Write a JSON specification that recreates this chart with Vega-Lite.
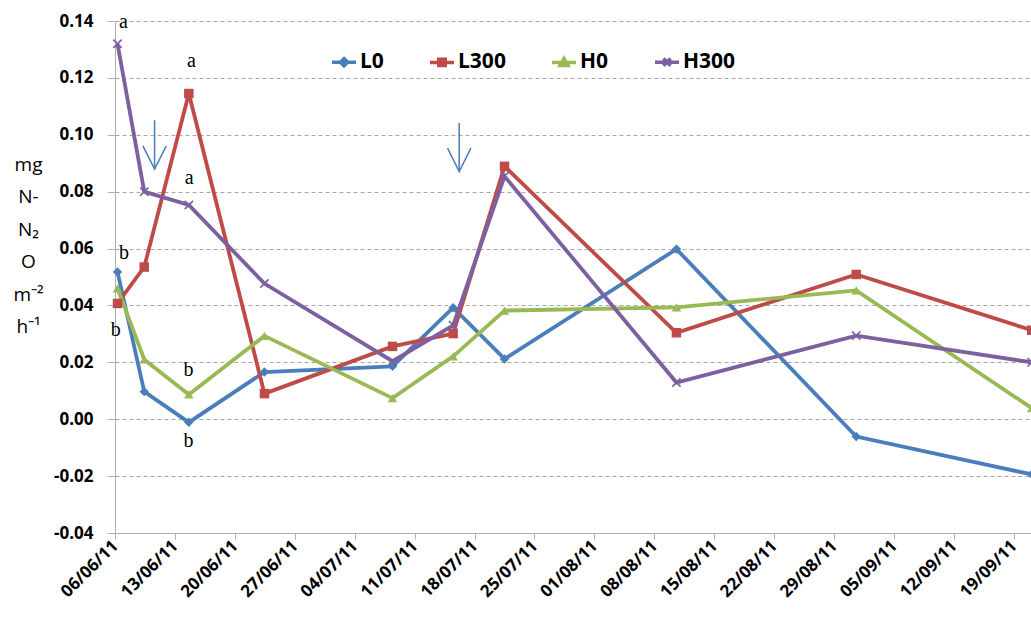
{
  "$schema": "https://vega.github.io/schema/vega-lite/v6.json",
  "width": 916,
  "height": 512,
  "autosize": "none",
  "padding": {"left": 115, "top": 21, "right": 0, "bottom": 89},
  "background": "white",
  "config": {"view": {"stroke": null}, "font": "Open Sans"},
  "datasets": {
    "series": [
      {"date": "2011-06-06T07:00", "series": "L0", "value": 0.0518},
      {"date": "2011-06-09T10:00", "series": "L0", "value": 0.0097},
      {"date": "2011-06-14T15:00", "series": "L0", "value": -0.0011},
      {"date": "2011-06-23T11:00", "series": "L0", "value": 0.0166},
      {"date": "2011-07-08T10:00", "series": "L0", "value": 0.0186},
      {"date": "2011-07-15T12:00", "series": "L0", "value": 0.0392},
      {"date": "2011-07-21T12:00", "series": "L0", "value": 0.0212},
      {"date": "2011-08-10T14:00", "series": "L0", "value": 0.0598},
      {"date": "2011-08-31T14:00", "series": "L0", "value": -0.0061},
      {"date": "2011-09-21T02:00", "series": "L0", "value": -0.0194},
      {"date": "2011-06-06T07:00", "series": "L300", "value": 0.0407},
      {"date": "2011-06-09T10:00", "series": "L300", "value": 0.0535},
      {"date": "2011-06-14T15:00", "series": "L300", "value": 0.1145},
      {"date": "2011-06-23T11:00", "series": "L300", "value": 0.0090},
      {"date": "2011-07-08T10:00", "series": "L300", "value": 0.0256},
      {"date": "2011-07-15T12:00", "series": "L300", "value": 0.0301},
      {"date": "2011-07-21T12:00", "series": "L300", "value": 0.0889},
      {"date": "2011-08-10T14:00", "series": "L300", "value": 0.0304},
      {"date": "2011-08-31T14:00", "series": "L300", "value": 0.0509},
      {"date": "2011-09-21T02:00", "series": "L300", "value": 0.0313},
      {"date": "2011-06-06T07:00", "series": "H0", "value": 0.0460},
      {"date": "2011-06-09T10:00", "series": "H0", "value": 0.0210},
      {"date": "2011-06-14T15:00", "series": "H0", "value": 0.0087},
      {"date": "2011-06-23T11:00", "series": "H0", "value": 0.0293},
      {"date": "2011-07-08T10:00", "series": "H0", "value": 0.0074},
      {"date": "2011-07-15T12:00", "series": "H0", "value": 0.0221},
      {"date": "2011-07-21T12:00", "series": "H0", "value": 0.0382},
      {"date": "2011-08-10T14:00", "series": "H0", "value": 0.0393},
      {"date": "2011-08-31T14:00", "series": "H0", "value": 0.0453},
      {"date": "2011-09-21T02:00", "series": "H0", "value": 0.0039},
      {"date": "2011-06-06T07:00", "series": "H300", "value": 0.1320},
      {"date": "2011-06-09T10:00", "series": "H300", "value": 0.0800},
      {"date": "2011-06-14T15:00", "series": "H300", "value": 0.0753},
      {"date": "2011-06-23T11:00", "series": "H300", "value": 0.0477},
      {"date": "2011-07-08T10:00", "series": "H300", "value": 0.0204},
      {"date": "2011-07-15T12:00", "series": "H300", "value": 0.0330},
      {"date": "2011-07-21T12:00", "series": "H300", "value": 0.0854},
      {"date": "2011-08-10T14:00", "series": "H300", "value": 0.0129},
      {"date": "2011-08-31T14:00", "series": "H300", "value": 0.0294},
      {"date": "2011-09-21T02:00", "series": "H300", "value": 0.0200}
    ],
    "notes": [
      {"date": "2011-06-07T00:00", "value": 0.1398, "label": "a"},
      {"date": "2011-06-14T22:00", "value": 0.1258, "label": "a"},
      {"date": "2011-06-14T16:00", "value": 0.0849, "label": "a"},
      {"date": "2011-06-07T01:00", "value": 0.0584, "label": "b"},
      {"date": "2011-06-06T02:00", "value": 0.0312, "label": "b"},
      {"date": "2011-06-14T14:00", "value": 0.0173, "label": "b"},
      {"date": "2011-06-14T14:00", "value": -0.0077, "label": "b"}
    ],
    "arrows": [
      {"date": "2011-06-10T15:00", "value": 0.1051, "tip": 0.0879},
      {"date": "2011-07-16T05:00", "value": 0.1041, "tip": 0.0871}
    ]
  },
  "encoding": {
    "x": {
      "field": "date",
      "type": "temporal",
      "scale": {"domain": [{"year": 2011, "month": 6, "date": 6}, {"year": 2011, "month": 9, "date": 21}]},
      "axis": {
        "values": [
          {"year": 2011, "month": 6, "date": 6},
          {"year": 2011, "month": 6, "date": 13},
          {"year": 2011, "month": 6, "date": 20},
          {"year": 2011, "month": 6, "date": 27},
          {"year": 2011, "month": 7, "date": 4},
          {"year": 2011, "month": 7, "date": 11},
          {"year": 2011, "month": 7, "date": 18},
          {"year": 2011, "month": 7, "date": 25},
          {"year": 2011, "month": 8, "date": 1},
          {"year": 2011, "month": 8, "date": 8},
          {"year": 2011, "month": 8, "date": 15},
          {"year": 2011, "month": 8, "date": 22},
          {"year": 2011, "month": 8, "date": 29},
          {"year": 2011, "month": 9, "date": 5},
          {"year": 2011, "month": 9, "date": 12},
          {"year": 2011, "month": 9, "date": 19}
        ],
        "format": "%d/%m/%y",
        "labelAngle": -45,
        "labelAlign": "right",
        "labelBaseline": "middle",
        "labelFont": "Open Sans",
        "labelFontWeight": "bold",
        "labelFontSize": 17,
        "labelColor": "black",
        "labelPadding": 4,
        "labelOverlap": false,
        "labelFlush": false,
        "labelBound": false,
        "tickSize": 6,
        "tickColor": "#b0b0b0",
        "domainColor": "#b0b0b0",
        "grid": false,
        "title": null
      }
    },
    "y": {
      "field": "value",
      "type": "quantitative",
      "scale": {"domain": [-0.04, 0.14], "nice": false, "zero": false},
      "axis": {
        "values": [-0.04, -0.02, 0, 0.02, 0.04, 0.06, 0.08, 0.1, 0.12, 0.14],
        "labelExpr": "replace(format(datum.value, '.2f'), '\u2212', '-')",
        "labelFont": "Open Sans",
        "labelFontWeight": "bold",
        "labelFontSize": 17,
        "labelColor": "black",
        "labelPadding": 14,
        "tickSize": 8,
        "tickColor": "#b0b0b0",
        "domainColor": "#b0b0b0",
        "grid": true,
        "gridColor": "#a6a6a6",
        "gridDash": [4, 3],
        "title": ["mg", "N-", "N₂", "O", "m⁻²", "h⁻¹"],
        "titleFont": "Open Sans",
        "titleFontWeight": "normal",
        "titleFontSize": 19,
        "titleColor": "black",
        "titleAngle": 0,
        "titleAlign": "center",
        "titleBaseline": "middle",
        "titleX": -87,
        "titleY": 143,
        "titleLineHeight": 32.5
      }
    }
  },
  "layer": [
    {
      "data": {"name": "series"},
      "encoding": {
        "color": {
          "field": "series",
          "type": "nominal",
          "scale": {"domain": ["L0", "L300", "H0", "H300"], "range": ["#4a7ebb", "#be4b48", "#98b954", "#7d60a0"]},
          "legend": {
            "orient": "none",
            "legendX": 215,
            "legendY": 27,
            "direction": "horizontal",
            "title": null,
            "labelFont": "Open Sans",
            "labelFontWeight": "bold",
            "labelFontSize": 21,
            "labelColor": "black",
            "labelOffset": 2,
            "columnPadding": 39,
            "symbolSize": 576,
            "symbolStrokeWidth": 3.5,
            "encode": {
              "symbols": {
                "update": {
                  "shape": {"signal": "{'L0':'M-1,0H1M0,-0.3L0.3,0L0,0.3L-0.3,0Z','L300':'M-1,0H1M-0.27,-0.27H0.27V0.27H-0.27Z','H0':'M-1,0H1M0,-0.32L0.34,0.27H-0.34Z','H300':'M-1,0H1M-0.3,-0.3L0.3,0.3M-0.3,0.3L0.3,-0.3'}[datum.value]"},
                  "stroke": {"scale": "color", "field": "value"},
                  "fill": {"scale": "color", "field": "value"},
                  "opacity": {"value": 1}
                }
              }
            }
          }
        }
      },
      "layer": [
        {"mark": {"type": "line", "strokeWidth": 3.8}},
        {
          "mark": {"type": "point", "filled": true, "opacity": 1, "size": 90},
          "encoding": {
            "shape": {
              "field": "series",
              "type": "nominal",
              "scale": {
                "domain": ["H300", "H0", "L300", "L0"],
                "range": ["M-1,-0.75L-0.75,-1L0,-0.25L0.75,-1L1,-0.75L0.25,0L1,0.75L0.75,1L0,0.25L-0.75,1L-1,0.75L-0.25,0Z", "triangle-up", "square", "diamond"]
              },
              "legend": null
            }
          }
        }
      ]
    },
    {
      "data": {"name": "arrows"},
      "mark": {"type": "rule", "color": "#4a7ebb", "strokeWidth": 1.5},
      "encoding": {"y2": {"field": "tip"}}
    },
    {
      "data": {"name": "arrows"},
      "mark": {"type": "point", "shape": "M-1,-2L0,0L1,-2", "filled": false, "size": 547, "color": "#4a7ebb", "strokeWidth": 1.5, "opacity": 1},
      "encoding": {"y": {"field": "tip", "type": "quantitative"}}
    },
    {
      "data": {"name": "notes"},
      "mark": {"type": "text", "font": "Liberation Serif", "fontSize": 20, "color": "black", "align": "center", "baseline": "middle"},
      "encoding": {"text": {"field": "label"}}
    }
  ]
}
